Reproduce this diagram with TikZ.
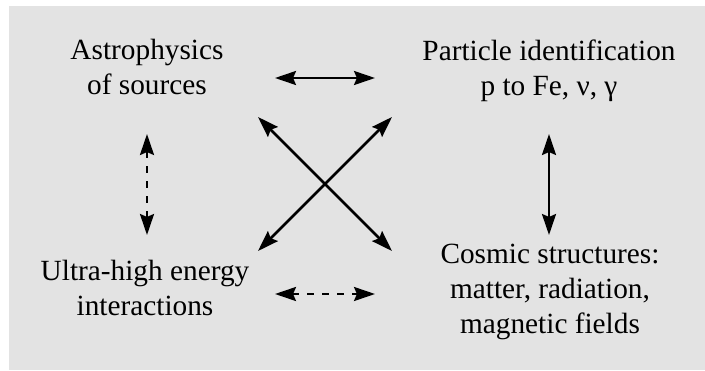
\documentclass[tikz,border=0pt]{standalone}
\usepackage{fontspec}
\setmainfont{Liberation Serif}
\usetikzlibrary{arrows.meta}
\definecolor{bggray}{RGB}{227,227,227}
\tikzset{
  lbl/.style={align=center, anchor=base, inner sep=0pt, font=\fontsize{29.3}{35}\selectfont},
  biarrow/.style={line width=2.5pt, {Stealth[length=21pt,width=14pt,inset=3pt]}-{Stealth[length=21pt,width=14pt,inset=3pt]}},
  dasharrow/.style={biarrow, dash pattern=on 7pt off 8pt}
}
\begin{document}
\begin{tikzpicture}[x=1pt,y=-1pt]
\useasboundingbox (0,0) rectangle (705,370);
\fill[bggray] (9,6) rectangle (705,370);
% text nodes (anchor = baseline of last line)
\node[lbl] (astro) at (147,94.5) {Astrophysics\\of sources};
\node[lbl] (part) at (549,95) {Particle identification\\p to Fe, ν, γ};
\node[lbl] (uhe) at (145,315) {Ultra-high energy\\interactions};
\node[lbl] (cosmic) at (550,333) {Cosmic structures:\\matter, radiation,\\magnetic fields};
% arrow end coordinates
\coordinate (tL) at (275,78);  \coordinate (tR) at (375,78);
\coordinate (bL) at (275,294); \coordinate (bR) at (375,294);
\coordinate (lT) at (147,134); \coordinate (lB) at (147,235);
\coordinate (rT) at (549,134); \coordinate (rB) at (549,235);
\coordinate (dTL) at (258,117); \coordinate (dBR) at (392,251);
\coordinate (dTR) at (392,117); \coordinate (dBL) at (258,251);
% arrows
\draw[biarrow] (tL) -- (tR);
\draw[dasharrow] (bL) -- (bR);
\draw[dasharrow] (lT) -- (lB);
\draw[biarrow] (rT) -- (rB);
\draw[biarrow] (dTL) -- (dBR);
\draw[biarrow] (dTR) -- (dBL);
\end{tikzpicture}
\end{document}
